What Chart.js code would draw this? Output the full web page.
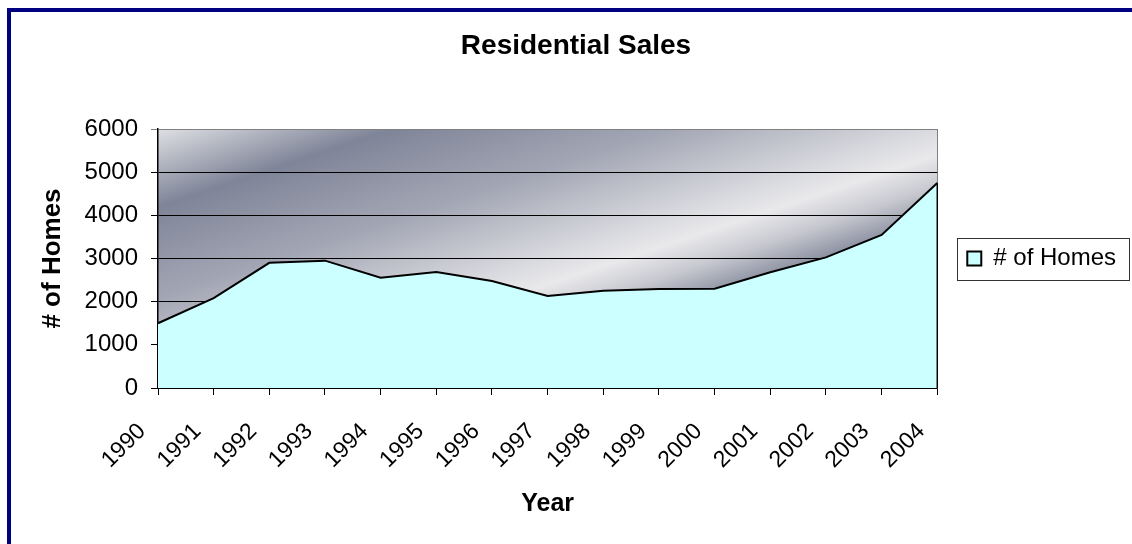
<!DOCTYPE html>
<html>
<head>
<meta charset="utf-8">
<title>Residential Sales</title>
<script src="https://cdn.jsdelivr.net/npm/chart.js@4.4.1/dist/chart.umd.min.js"></script>
<style>
  html, body { margin: 0; padding: 0; background: #fff; }
  #contenedor { width: 1132px; height: 544px; }
</style>
</head>
<body>
<div id="contenedor"><canvas id="ventas_residenciales"></canvas></div>
<script>
// datos
const anios = ['1990', '1991', '1992', '1993', '1994', '1995', '1996', '1997',
               '1998', '1999', '2000', '2001', '2002', '2003', '2004'];
const casas = [1500, 2080, 2900, 2950, 2555, 2685, 2480, 2130,
               2255, 2295, 2300, 2680, 3025, 3545, 4750];
const eje_y = [0, 6000, 1000]; // min, max, paso

const titulo = 'Residential Sales';
const titulo_y = '# of Homes';
const titulo_x = 'Year';
const nombre_serie = '# of Homes';

Chart.defaults.font.family = "'Liberation Sans', Arial, sans-serif";
Chart.defaults.color = '#000';

// fondo blanco, marco azul y degradado del area de trazado
const fondo_grafica = {
  id: 'fondo_grafica',
  beforeDraw(chart) {
    const { ctx, chartArea: a, width, height } = chart;
    ctx.save();
    ctx.fillStyle = '#ffffff';
    ctx.fillRect(0, 0, width, height);
    ctx.fillStyle = '#000080';
    ctx.fillRect(7, 8, width - 7, 4);
    ctx.fillRect(7, 8, 4, height - 8);

    ctx.translate(a.left, a.top);
    ctx.scale(a.right - a.left, a.bottom - a.top);
    const g = ctx.createLinearGradient(0, 0, 1, 1);
    g.addColorStop(0, '#dfe0e4');
    g.addColorStop(0.15, '#7f8598');
    g.addColorStop(0.33, '#a3a6b4');
    g.addColorStop(0.48, '#d4d5db');
    g.addColorStop(0.55, '#e9e9eb');
    g.addColorStop(0.61, '#c8c9d0');
    g.addColorStop(0.69, '#7f8598');
    g.addColorStop(0.85, '#b0b3bf');
    g.addColorStop(1, '#dfe0e4');
    ctx.fillStyle = g;
    ctx.fillRect(0, 0, 1, 1);
    ctx.restore();
  },
  afterDatasetsDraw(chart) {
    // borde derecho del area sombreada
    const { ctx, scales } = chart;
    const ultimo = casas.length - 1;
    const x = scales.x.getPixelForValue(ultimo);
    ctx.save();
    ctx.strokeStyle = '#000';
    ctx.lineWidth = 1.5;
    ctx.beginPath();
    ctx.moveTo(x, scales.y.getPixelForValue(casas[ultimo]));
    ctx.lineTo(x, scales.y.getPixelForValue(0));
    ctx.stroke();
    ctx.restore();
  },
  afterDraw(chart) {
    // recuadro de la leyenda
    const lg = chart.legend;
    if (!lg || !lg.legendHitBoxes || !lg.legendHitBoxes.length) return;
    const hb = lg.legendHitBoxes[0];
    const { ctx } = chart;
    const cy = hb.top + hb.height / 2;
    ctx.save();
    ctx.strokeStyle = '#333';
    ctx.lineWidth = 1;
    ctx.strokeRect(Math.round(hb.left - 10) + 0.5, Math.round(cy - 21) + 0.5,
                   Math.round(hb.width + 23), 42);
    ctx.restore();
  }
};

const ctx_ventas = document.getElementById('ventas_residenciales').getContext('2d');

grafica_ventas = new Chart(ctx_ventas, {
  type: 'line',
  data: {
    labels: anios,
    datasets: [
      {
        label: nombre_serie,
        data: casas,
        fill: 'origin',
        backgroundColor: '#ccffff',
        borderColor: '#000000',
        borderWidth: 2,
        pointRadius: 0,
        tension: 0
      }
    ]
  },
  options: {
    responsive: true,
    maintainAspectRatio: false,
    animation: false,
    layout: { padding: { left: 26, right: 6, top: 0, bottom: 0 } },
    scales: {
      x: {
        grid: {
          drawOnChartArea: true,
          color: (c) => c.index === anios.length - 1 ? '#808080' : 'transparent',
          tickColor: '#000',
          tickLength: 7
        },
        border: { color: '#000', width: 1.5 },
        ticks: {
          font: { size: 23 },
          color: '#000',
          minRotation: 45,
          maxRotation: 45,
          autoSkip: false,
          padding: 23,
          labelOffset: -16
        },
        title: {
          display: true,
          text: titulo_x,
          font: { size: 25, weight: 'bold' },
          padding: { top: 0, bottom: 25 }
        },
        afterFit: (scale) => { scale.height = 156; }
      },
      y: {
        min: eje_y[0],
        max: eje_y[1],
        grid: {
          color: (c) => c.tick && c.tick.value === eje_y[1] ? '#808080' : '#000',
          lineWidth: 1,
          tickLength: 7
        },
        border: { color: '#000', width: 1.5 },
        ticks: {
          stepSize: eje_y[2],
          font: { size: 24 },
          color: '#000',
          padding: 13,
          callback: (v) => String(v)
        },
        title: {
          display: true,
          text: titulo_y,
          font: { size: 26, weight: 'bold' },
          padding: { top: 11, bottom: 0 }
        },
        afterFit: (scale) => { scale.width = 132; }
      }
    },
    plugins: {
      title: {
        display: true,
        text: titulo,
        color: '#000',
        font: { size: 28, weight: 'bold' },
        padding: { top: 29, bottom: 66.4 }
      },
      legend: {
        display: true,
        position: 'right',
        fullSize: false,
        labels: {
          boxWidth: 14,
          boxHeight: 14,
          padding: 30,
          color: '#000',
          font: { size: 24 }
        }
      },
      tooltip: { enabled: false }
    }
  },
  plugins: [fondo_grafica]
});
</script>
</body>
</html>
